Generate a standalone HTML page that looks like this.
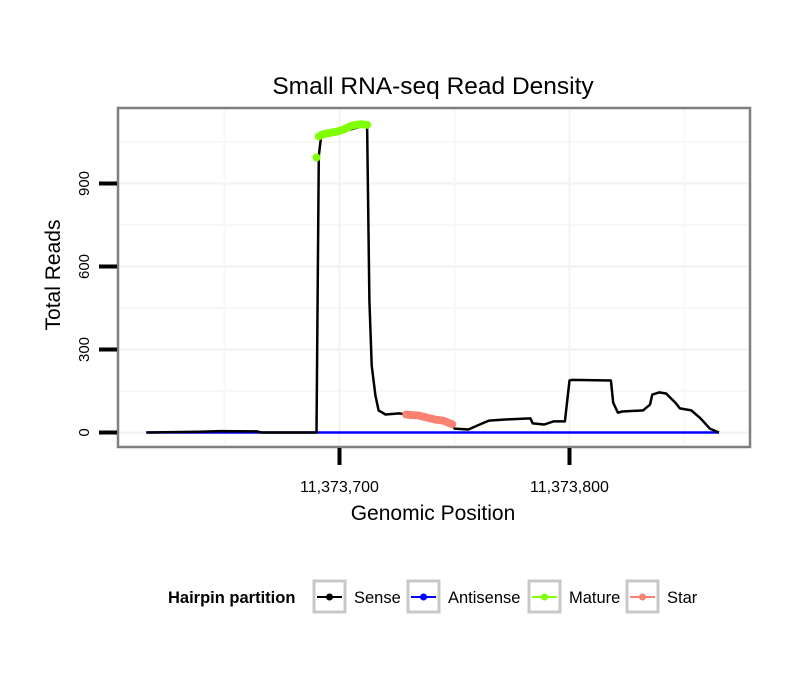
<!DOCTYPE html>
<html><head><meta charset="utf-8">
<style>
html,body{margin:0;padding:0;background:#fff;}
svg{display:block;font-family:"Liberation Sans",Arial,sans-serif;}
</style></head>
<body>
<svg id="chart" width="810" height="690" viewBox="0 0 810 690">
  <rect x="0" y="0" width="810" height="690" fill="#fff"/>
  <text x="433" y="94" text-anchor="middle" font-size="24.5" fill="#000">Small RNA-seq Read Density</text>
  <g id="grid"></g>
  <g id="series"></g>
  <rect x="118" y="108" width="632" height="339" fill="none" stroke="#7f7f7f" stroke-width="2.5"/>
  <g id="axes"></g>
  <text transform="translate(60,275) rotate(-90)" text-anchor="middle" font-size="21" fill="#000">Total Reads</text>
  <text x="433" y="520" text-anchor="middle" font-size="21" fill="#000">Genomic Position</text>
  <g id="legend">
    <text x="168" y="603" font-size="16.5" font-weight="bold" fill="#000">Hairpin partition</text>
  </g>
</svg>
<script>
const senseX = [11373616,11373639,11373648,11373664,11373666,11373690,11373691,11373692,11373700,11373705,11373712,11373713,11373714,11373715.6,11373717,11373720,11373726,11373729,11373735,11373740,11373749,11373750,11373756,11373763,11373765,11373772,11373783,11373784,11373789,11373793,11373798,11373800,11373801,11373818,11373819,11373821,11373823,11373832,11373835,11373836,11373839,11373842,11373846,11373848,11373853,11373857,11373861,11373865];
const senseY = [0,3,5,4,0,0,1000,1070,1085,1096,1112,477,242,134,80,65,69,65,60,50,30,14,11,36,43,47,51,33,29,40,40,188,190,188,108,72,76,80,101,137,145,141,108,87,80,51,14,0];
const antisenseX = [11373616,11373865];
const antisenseY = [0,0];
const matureX = [11373690,11373691,11373692,11373693,11373694,11373695,11373696,11373697,11373698,11373699,11373700,11373701,11373702,11373703,11373704,11373705,11373706,11373707,11373708,11373709,11373710,11373711,11373712];
const matureY = [994,1070,1075,1078,1080,1082,1083,1085,1086,1088,1090,1093,1096,1100,1104,1108,1110,1112,1113,1114,1114,1113,1112];
const starX = [11373729,11373730,11373731,11373732,11373733,11373734,11373735,11373736,11373737,11373738,11373739,11373740,11373741,11373742,11373743,11373744,11373745,11373746,11373747,11373748,11373749];
const starY = [65,64,63,63,62,62,60,58,56,54,52,50,48,46,45,44,43,40,36,33,30];
const yTicks = [0,300,600,900];
const yTickLabels = ["0","300","600","900"];
const xTicks = [11373700,11373800];
const xTickLabels = ["11,373,700","11,373,800"];
const legendLabels = ["Sense","Antisense","Mature","Star"];
const legendColors = ["#000000","#0000ff","#7fff00","#fa8072"];

const NS = "http://www.w3.org/2000/svg";
function xs(v){ return 339.5 + (v - 11373700) * 2.3; }
function ys(v){ return 432.5 - v * (83/300); }
function mk(tag, attrs, parent){
  const e = document.createElementNS(NS, tag);
  for (const k in attrs) e.setAttribute(k, attrs[k]);
  parent.appendChild(e);
  return e;
}
const grid = document.getElementById('grid');
const series = document.getElementById('series');
const axes = document.getElementById('axes');
const legend = document.getElementById('legend');

for (let i = 0; i < yTicks.length; i++) {
  const v = yTicks[i];
  const g = mk('line', {x1:119, x2:749, y1:ys(v), y2:ys(v), stroke:'#f2f2f2', 'stroke-width':2}, grid);
  
  
  const m = mk('line', {x1:119, x2:749, y1:ys(v+150), y2:ys(v+150), stroke:'#f7f7f7', 'stroke-width':2}, grid);
  
  
}
const step = xTicks[1] - xTicks[0];
for (let v = xTicks[0] - step*1.5; v <= xTicks[1] + step*1.5; v += step/2) {
  if (xs(v) < 119 || xs(v) > 749) continue;
  const major = Math.abs(((v - xTicks[0]) / step) % 1) < 1e-9;
  const g = mk('line', {x1:xs(v), x2:xs(v), y1:109, y2:446, stroke: major ? '#f2f2f2' : '#f7f7f7', 'stroke-width':2}, grid);
  
  
}

function drawLine(X, Y, color, name, w){
  const pts = X.map((x,i)=> xs(x).toFixed(1)+','+ys(Y[i]).toFixed(1)).join(' ');
  const p = mk('polyline', {points:pts, fill:'none', stroke:color, 'stroke-width':w, 'stroke-linejoin':'round'}, series);
  
  
}
function drawPoints(X, Y, color, name){
  for (let i = 0; i < X.length; i++) {
    const c = mk('circle', {cx:xs(X[i]), cy:ys(Y[i]), r:4, fill:color}, series);
    
    
  }
}
drawLine(antisenseX, antisenseY, '#0000ff', 'antisense-line', 2.5);
drawLine(senseX, senseY, '#000000', 'sense-line', 2.5);
drawPoints(starX, starY, '#fa8072', 'star-point');
drawPoints(matureX, matureY, '#7fff00', 'mature-point');

for (let i = 0; i < yTicks.length; i++) {
  const t = mk('line', {x1:99, x2:117, y1:ys(yTicks[i]), y2:ys(yTicks[i]), stroke:'#000', 'stroke-width':4}, axes);
  
  
  const y = ys(yTicks[i]);
  const l = mk('text', {transform:'translate(89,'+y+') rotate(-90)', 'text-anchor':'middle', 'font-size':15, fill:'#000'}, axes);
  l.textContent = yTickLabels[i];
  
  
}
for (let i = 0; i < xTicks.length; i++) {
  const x = xs(xTicks[i]);
  const t = mk('line', {x1:x, x2:x, y1:448, y2:465, stroke:'#000', 'stroke-width':4}, axes);
  
  
  const l = mk('text', {x:x, y:492, 'text-anchor':'middle', 'font-size':16, fill:'#000'}, axes);
  l.textContent = xTickLabels[i];
  
  
}

const keyX = [314, 408, 529, 627];
for (let i = 0; i < legendLabels.length; i++) {
  const kx = keyX[i];
  const k = mk('rect', {x:kx, y:581, width:31, height:31, fill:'#fff', stroke:'#c8c8c8', 'stroke-width':3}, legend);
  
  
  const ln = mk('line', {x1:kx+3, x2:kx+28, y1:597, y2:597, stroke:legendColors[i], 'stroke-width':2}, legend);
  
  
  const dt = mk('circle', {cx:kx+15.5, cy:597, r:3.5, fill:legendColors[i]}, legend);
  
  
  const tx = mk('text', {x:kx+40, y:603, 'font-size':16.5, fill:'#000'}, legend);
  tx.textContent = legendLabels[i];
  
  
}
</script>
</body></html>
